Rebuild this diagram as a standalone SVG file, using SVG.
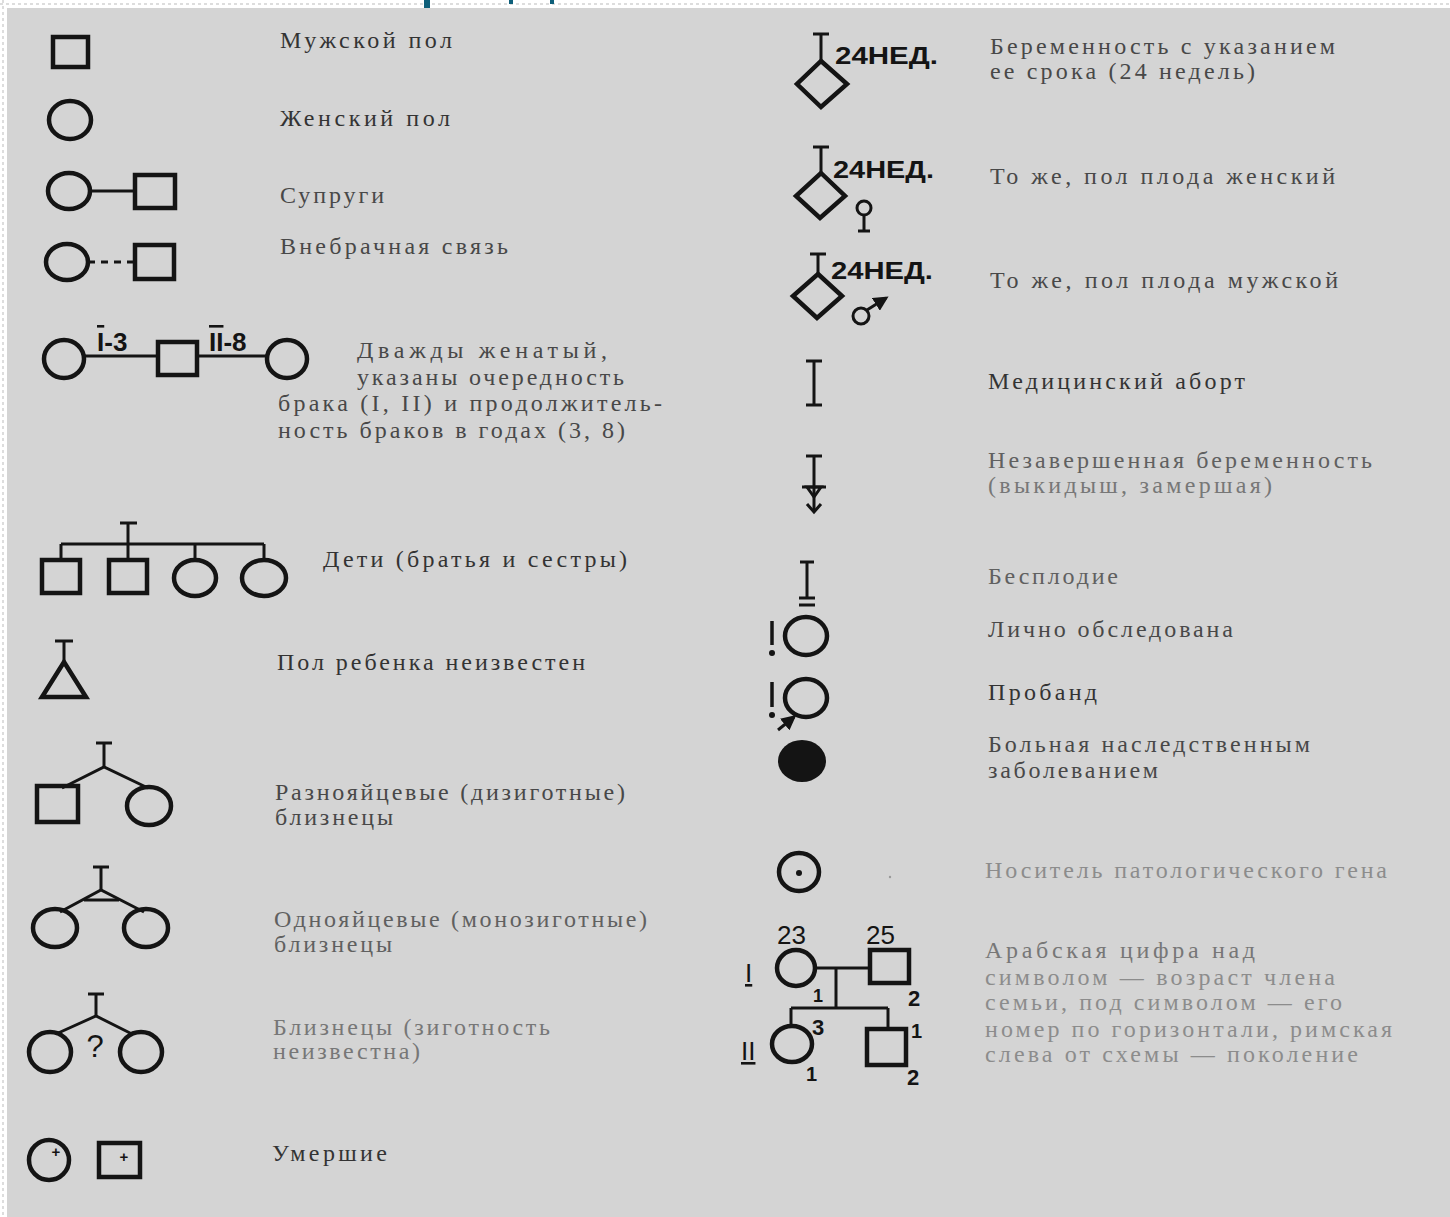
<svg xmlns="http://www.w3.org/2000/svg" width="1450" height="1217" viewBox="0 0 1450 1217">
<defs>
<style>
.s{fill:none;stroke:#141414;stroke-width:4.5;stroke-linejoin:miter}
.l{fill:none;stroke:#141414;stroke-width:3}
.f{fill:#141414}
.t{font-family:"Liberation Serif","DejaVu Serif",serif;font-size:24px;fill:#333}
.m{fill:#484848}
.g{fill:#606060}
.h{fill:#777}
.k{fill:#8c8c8c}
.b{font-family:"Liberation Sans","DejaVu Sans",sans-serif;font-weight:bold;fill:#141414}
.r{font-family:"Liberation Sans","DejaVu Sans",sans-serif;fill:#141414}
</style>
<marker id="ah" viewBox="0 0 10 10" refX="8" refY="5" markerWidth="5" markerHeight="5" orient="auto"><path d="M0,0 L10,5 L0,10 z" fill="#141414"/></marker>
</defs>
<rect x="0" y="0" width="1450" height="1217" fill="#ffffff"/>
<line x1="0" y1="4" x2="1450" y2="4" stroke="#dddddd" stroke-width="2" stroke-dasharray="3,3"/>
<line x1="3" y1="0" x2="3" y2="1217" stroke="#dddddd" stroke-width="2" stroke-dasharray="3,3"/>
<rect x="7" y="8" width="1443" height="1209" fill="#d4d4d4"/>
<g id="title-fragment" fill="#0e5f7a">
<rect x="424" y="0" width="6" height="8"/>
<rect x="509" y="0" width="4" height="4"/>
<rect x="550" y="0" width="4" height="4"/>
</g>

<g id="male">
<rect class="s" x="53" y="37" width="35" height="30"/>
<text class="t" x="280" y="48" textLength="172" lengthAdjust="spacing">Мужской пол</text>
</g>
<g id="female">
<ellipse class="s" cx="70" cy="120" rx="21" ry="19"/>
<text class="t" x="280" y="126" textLength="170" lengthAdjust="spacing">Женский пол</text>
</g>
<g id="spouses">
<ellipse class="s" cx="69" cy="191" rx="21" ry="18"/>
<line class="l" x1="90" y1="191" x2="135" y2="191"/>
<rect class="s" x="135" y="175" width="40" height="33"/>
<text class="t m" x="280" y="203" textLength="104" lengthAdjust="spacing">Супруги</text>
</g>
<g id="extramarital">
<ellipse class="s" cx="67" cy="262" rx="21" ry="18"/>
<line class="l" x1="88" y1="262" x2="135" y2="262" stroke-dasharray="7,6"/>
<rect class="s" x="135" y="245" width="39" height="34"/>
<text class="t m" x="280" y="254" textLength="228" lengthAdjust="spacing">Внебрачная связь</text>
</g>
<g id="twice-married">
<ellipse class="s" cx="64" cy="359" rx="20" ry="19"/>
<line class="l" x1="84" y1="356" x2="158" y2="356"/>
<rect class="s" x="158" y="342" width="39" height="33"/>
<line class="l" x1="197" y1="356" x2="267" y2="356"/>
<ellipse class="s" cx="287" cy="359" rx="20" ry="19"/>
<text class="b" x="97" y="351" font-size="26"><tspan text-decoration="overline">I</tspan>-3</text>
<text class="b" x="209" y="351" font-size="26"><tspan text-decoration="overline">II</tspan>-8</text>
<text class="t m" x="357" y="358" textLength="250" lengthAdjust="spacing">Дважды женатый,</text>
<text class="t m" x="357" y="385" textLength="267" lengthAdjust="spacing">указаны очередность</text>
<text class="t m" x="278" y="411" textLength="384" lengthAdjust="spacing">брака (I, II) и продолжитель-</text>
<text class="t m" x="278" y="438" textLength="347" lengthAdjust="spacing">ность браков в годах (3, 8)</text>
</g>
<g id="siblings">
<line class="l" x1="120" y1="523" x2="137" y2="523"/>
<line class="l" x1="128" y1="523" x2="128" y2="560"/>
<line class="l" x1="61" y1="544" x2="264" y2="544"/>
<line class="l" x1="61" y1="544" x2="61" y2="560"/>
<line class="l" x1="195" y1="544" x2="195" y2="560"/>
<line class="l" x1="264" y1="544" x2="264" y2="560"/>
<rect class="s" x="42" y="560" width="38" height="33"/>
<rect class="s" x="109" y="560" width="38" height="33"/>
<ellipse class="s" cx="195" cy="578" rx="21" ry="18"/>
<ellipse class="s" cx="264" cy="578" rx="22" ry="18"/>
<text class="t" x="323" y="567" textLength="304" lengthAdjust="spacing">Дети (братья и сестры)</text>
</g>
<g id="unknown-sex">
<line class="l" x1="55" y1="641" x2="73" y2="641"/>
<line class="l" x1="64" y1="641" x2="64" y2="662"/>
<polygon class="s" points="64,662 86,697 42,697"/>
<text class="t" x="277" y="670" textLength="308" lengthAdjust="spacing">Пол ребенка неизвестен</text>
</g>
<g id="dizygotic">
<line class="l" x1="96" y1="743" x2="112" y2="743"/>
<line class="l" x1="104" y1="743" x2="104" y2="767"/>
<polyline class="l" points="62,788 104,767 148,788"/>
<rect class="s" x="37" y="786" width="41" height="36"/>
<ellipse class="s" cx="149" cy="806" rx="22" ry="19"/>
<text class="t m" x="275" y="800" textLength="350" lengthAdjust="spacing">Разнояйцевые (дизиготные)</text>
<text class="t m" x="275" y="825" textLength="118" lengthAdjust="spacing">близнецы</text>
</g>
<g id="monozygotic">
<line class="l" x1="93" y1="867" x2="109" y2="867"/>
<line class="l" x1="101" y1="867" x2="101" y2="890"/>
<polyline class="l" points="60,912 101,890 144,912"/>
<line class="l" x1="84" y1="900" x2="119" y2="900"/>
<ellipse class="s" cx="55" cy="928" rx="22" ry="19"/>
<ellipse class="s" cx="146" cy="928" rx="22" ry="19"/>
<text class="t g" x="274" y="927" textLength="373" lengthAdjust="spacing">Однояйцевые (монозиготные)</text>
<text class="t g" x="274" y="952" textLength="118" lengthAdjust="spacing">близнецы</text>
</g>
<g id="twins-unknown">
<line class="l" x1="88" y1="994" x2="104" y2="994"/>
<line class="l" x1="96" y1="994" x2="96" y2="1016"/>
<polyline class="l" points="56,1034 96,1016 132,1034"/>
<ellipse class="s" cx="50" cy="1052" rx="21" ry="20"/>
<ellipse class="s" cx="141" cy="1052" rx="21" ry="20"/>
<text class="r" x="95" y="1057" font-size="31" text-anchor="middle" fill="#222">?</text>
<text class="t h" x="273" y="1035" textLength="277" lengthAdjust="spacing">Близнецы (зиготность</text>
<text class="t h" x="273" y="1059" textLength="147" lengthAdjust="spacing">неизвестна)</text>
</g>
<g id="deceased">
<ellipse class="s" cx="49" cy="1160" rx="20" ry="20"/>
<text class="b" x="56" y="1157" font-size="15" text-anchor="middle">+</text>
<rect class="s" x="99" y="1143" width="41" height="34"/>
<text class="b" x="124" y="1162" font-size="15" text-anchor="middle">+</text>
<text class="t" x="272" y="1161" textLength="115" lengthAdjust="spacing">Умершие</text>
</g>

<g id="pregnancy">
<line class="l" x1="813" y1="34" x2="829" y2="34"/>
<line class="l" x1="821" y1="34" x2="821" y2="61"/>
<polygon class="s" points="821,61 847,84 821,107 797,84"/>
<text class="b" x="835" y="64" font-size="24" textLength="103" lengthAdjust="spacingAndGlyphs">24НЕД.</text>
<text class="t m" x="990" y="54" textLength="345" lengthAdjust="spacing">Беременность с указанием</text>
<text class="t m" x="990" y="79" textLength="265" lengthAdjust="spacing">ее срока (24 недель)</text>
</g>
<g id="pregnancy-female">
<line class="l" x1="813" y1="147" x2="829" y2="147"/>
<line class="l" x1="821" y1="147" x2="821" y2="173"/>
<polygon class="s" points="821,173 845,196 820,218 796,196"/>
<text class="b" x="833" y="178" font-size="24" textLength="101" lengthAdjust="spacingAndGlyphs">24НЕД.</text>
<circle class="l" cx="864" cy="208" r="7"/>
<line class="l" x1="864" y1="215" x2="864" y2="231"/>
<line class="l" x1="858" y1="231" x2="870" y2="231"/>
<text class="t m" x="990" y="184" textLength="345" lengthAdjust="spacing">То же, пол плода женский</text>
</g>
<g id="pregnancy-male">
<line class="l" x1="810" y1="254" x2="826" y2="254"/>
<line class="l" x1="818" y1="254" x2="818" y2="274"/>
<polygon class="s" points="818,274 842,296 817,318 793,296"/>
<text class="b" x="831" y="279" font-size="24" textLength="102" lengthAdjust="spacingAndGlyphs">24НЕД.</text>
<circle class="l" cx="861" cy="316" r="8"/>
<line class="l" x1="867" y1="310" x2="886" y2="298" marker-end="url(#ah)"/>
<text class="t m" x="990" y="288" textLength="348" lengthAdjust="spacing">То же, пол плода мужской</text>
</g>
<g id="abortion">
<line class="l" x1="814" y1="361" x2="814" y2="405"/>
<line class="l" x1="806" y1="361" x2="822" y2="361"/>
<line class="l" x1="806" y1="405" x2="822" y2="405"/>
<text class="t" x="988" y="389" textLength="257" lengthAdjust="spacing">Медицинский аборт</text>
</g>
<g id="miscarriage">
<line class="l" x1="806" y1="456" x2="822" y2="456"/>
<line class="l" x1="814" y1="456" x2="814" y2="511"/>
<line class="l" x1="802" y1="487" x2="826" y2="487"/>
<polygon class="l" points="807,487 821,487 814,497"/>
<polyline class="l" points="807,504 814,512 821,504"/>
<text class="t g" x="988" y="468" textLength="384" lengthAdjust="spacing">Незавершенная беременность</text>
<text class="t h" x="988" y="493" textLength="284" lengthAdjust="spacing">(выкидыш, замершая)</text>
</g>
<g id="infertility">
<line class="l" x1="807" y1="562" x2="807" y2="598"/>
<line class="l" x1="800" y1="562" x2="814" y2="562"/>
<line class="l" x1="799" y1="598" x2="815" y2="598"/>
<line class="l" x1="799" y1="605" x2="815" y2="605"/>
<text class="t g" x="988" y="584" textLength="130" lengthAdjust="spacing">Бесплодие</text>
</g>
<g id="examined">
<line x1="772" y1="621" x2="772" y2="645" stroke="#141414" stroke-width="3.5"/>
<circle class="f" cx="772" cy="653" r="3"/>
<ellipse class="s" cx="806" cy="636" rx="21" ry="19"/>
<text class="t m" x="988" y="637" textLength="245" lengthAdjust="spacing">Лично обследована</text>
</g>
<g id="proband">
<line x1="772" y1="682" x2="772" y2="707" stroke="#141414" stroke-width="3.5"/>
<circle class="f" cx="772" cy="715" r="3"/>
<ellipse class="s" cx="806" cy="698" rx="21" ry="19"/>
<line class="l" x1="778" y1="730" x2="794" y2="717" marker-end="url(#ah)"/>
<text class="t" x="988" y="700" textLength="109" lengthAdjust="spacing">Пробанд</text>
</g>
<g id="affected">
<ellipse class="f" cx="802" cy="761" rx="24" ry="21"/>
<text class="t m" x="988" y="752" textLength="322" lengthAdjust="spacing">Больная наследственным</text>
<text class="t m" x="988" y="778" textLength="170" lengthAdjust="spacing">заболеванием</text>
</g>
<g id="carrier">
<ellipse class="s" cx="799" cy="872" rx="20" ry="19"/>
<circle class="f" cx="799" cy="873" r="3"/>
<circle cx="890" cy="877" r="1.2" fill="#9a9a9a"/>
<text class="t k" x="985" y="878" textLength="402" lengthAdjust="spacing">Носитель патологического гена</text>
</g>
<g id="pedigree-example">
<g id="connectors">
<line class="l" x1="815" y1="968" x2="870" y2="968"/>
<line class="l" x1="836" y1="968" x2="836" y2="1008"/>
<line class="l" x1="791" y1="1008" x2="888" y2="1008"/>
<line class="l" x1="791" y1="1008" x2="791" y2="1026"/>
<line class="l" x1="888" y1="1008" x2="888" y2="1029"/>
</g>
<ellipse class="s" cx="796" cy="968" rx="19" ry="18"/>
<rect class="s" x="870" y="950" width="39" height="33"/>
<ellipse class="s" cx="792" cy="1044" rx="20" ry="18"/>
<rect class="s" x="867" y="1029" width="39" height="36"/>
<text class="r" x="777" y="944" font-size="26">23</text>
<text class="r" x="866" y="944" font-size="26">25</text>
<text class="r" x="745" y="982" font-size="26" fill="#333" text-decoration="underline">I</text>
<text class="r" x="741" y="1060" font-size="26" fill="#333" text-decoration="underline">II</text>
<text class="b" x="813" y="1002" font-size="18">1</text>
<text class="b" x="908" y="1006" font-size="22">2</text>
<text class="b" x="812" y="1035" font-size="22">3</text>
<text class="b" x="911" y="1038" font-size="20">1</text>
<text class="b" x="806" y="1081" font-size="20">1</text>
<text class="b" x="907" y="1085" font-size="22">2</text>
<text class="t h" x="985" y="958" textLength="270" lengthAdjust="spacing">Арабская цифра над</text>
<text class="t k" x="985" y="985" textLength="350" lengthAdjust="spacing">символом — возраст члена</text>
<text class="t k" x="985" y="1010" textLength="357" lengthAdjust="spacing" fill="#a0a0a0">семьи, под символом — его</text>
<text class="t k" x="985" y="1037" textLength="407" lengthAdjust="spacing" fill="#a0a0a0">номер по горизонтали, римская</text>
<text class="t k" x="985" y="1062" textLength="373" lengthAdjust="spacing">слева от схемы — поколение</text>
</g>
</svg>
